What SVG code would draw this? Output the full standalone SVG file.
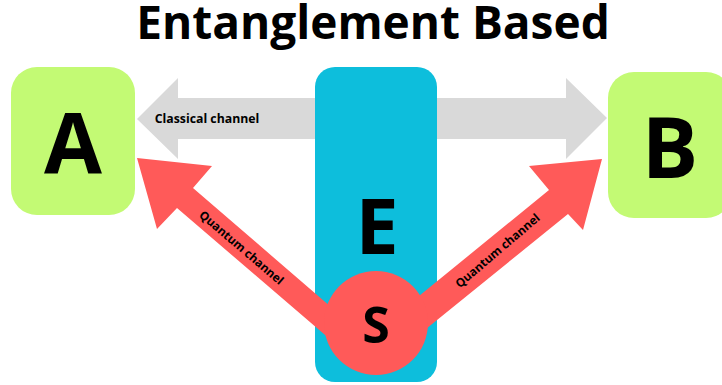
<svg xmlns="http://www.w3.org/2000/svg" width="722" height="385" viewBox="0 0 722 385">
<style>
.t{font-family:"Open Sans","Liberation Sans",sans-serif;font-weight:bold;fill:#000;text-anchor:middle}
.node{fill:#c3fa74}
.red{fill:#ff5a59}
</style>
<rect width="722" height="385" fill="#fff"/>
<text class="t" x="373" y="39" font-size="46">Entanglement Based</text>
<g id="connectors">
<polygon id="classical" points="137,119 178,78 178,98 566,98 566,78 607,118 566,159 566,139 178,139 178,159" fill="#d9d9d9"/>
</g>
<g id="A"><rect class="node" x="11" y="67" width="124" height="148" rx="26"/><text class="t" x="73" y="173" font-size="84">A</text></g>
<g id="B"><rect class="node" x="608" y="72" width="124" height="146" rx="26"/><text class="t" x="670" y="178" font-size="84">B</text></g>
<g id="E"><rect x="315" y="67" width="122" height="315" rx="20" fill="#0dbedc"/><text class="t" x="377" y="254" font-size="77">E</text></g>
<g id="quantum">
<polygon class="red" points="137,158 212,166 193,188 360,332 360,365 177,208 157,229"/>
<polygon class="red" points="602,159 583,230 568,214 400,350 392,318 549,190 529,166"/>
</g>
<g id="S"><circle class="red" cx="376" cy="323" r="52"/><text class="t" x="376" y="343" font-size="50">S</text></g>
<text class="t" x="207" y="123" font-size="12.3">Classical channel</text>
<text class="t" font-size="11.8" dominant-baseline="central" transform="translate(242,247) rotate(40.5)">Quantum channel</text>
<text class="t" font-size="11.8" dominant-baseline="central" transform="translate(497,250) rotate(-40.5)">Quantum channel</text>
</svg>
